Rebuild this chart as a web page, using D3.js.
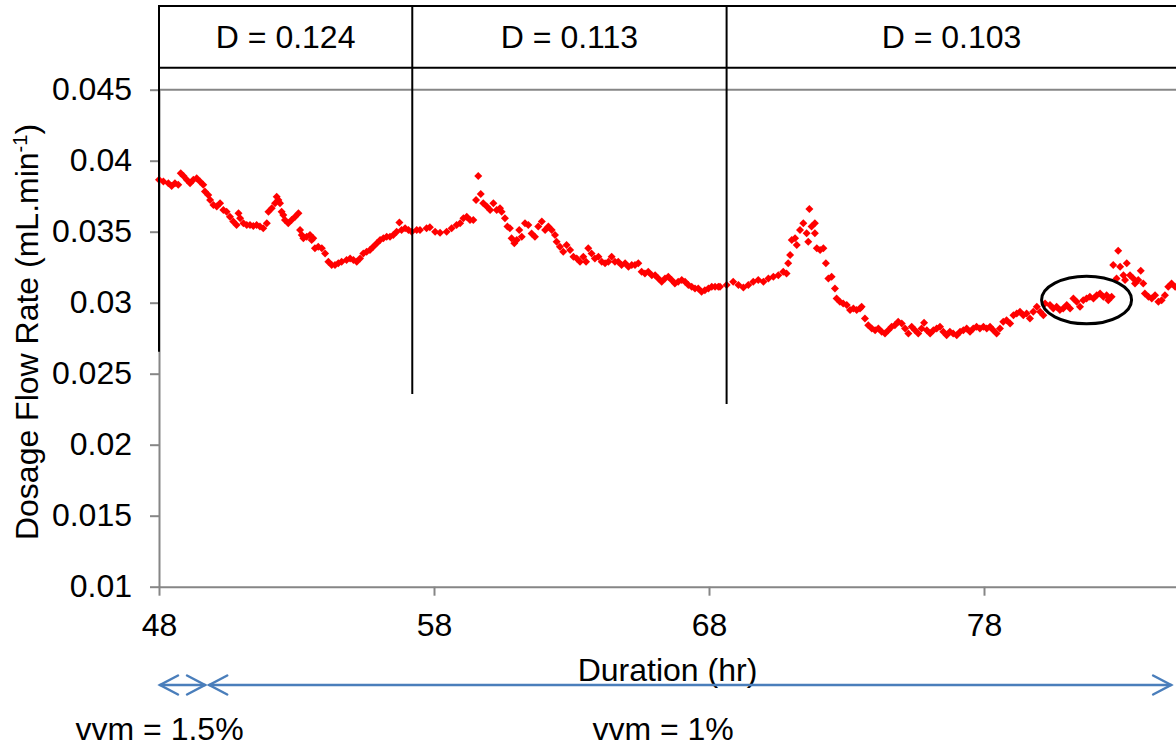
<!DOCTYPE html>
<html><head><meta charset="utf-8">
<script src="https://cdn.jsdelivr.net/npm/d3@7"></script>
<style>
body{margin:0;background:#fff}
svg{display:block;font-family:"Liberation Sans",Arial,sans-serif}
</style>
</head><body>
<svg id="c" width="1176" height="747"></svg>
<script>
// ---- data ----
const hours = [
48.00,48.16,48.34,48.46,48.58,48.70,48.79,48.89,49.01,49.13,49.25,49.37,49.49,49.61,49.67,49.79,49.86,49.98,50.10,50.22,
50.34,50.46,50.58,50.70,50.82,50.89,50.95,51.07,51.19,51.31,51.43,51.55,51.67,51.79,51.92,51.98,52.10,52.22,52.28,52.34,
52.40,52.46,52.52,52.58,52.70,52.82,52.95,53.07,53.13,53.19,53.25,53.37,53.49,53.55,53.61,53.67,53.79,53.92,54.04,54.16,
54.28,54.40,54.52,54.64,54.82,54.95,55.07,55.19,55.31,55.43,55.55,55.67,55.79,55.92,56.04,56.16,56.28,56.40,56.52,56.64,
56.74,56.82,56.95,57.07,57.19,57.37,57.49,57.73,57.85,58.04,58.22,58.46,58.64,58.82,58.95,59.07,59.19,59.31,59.43,59.53,
59.61,59.70,59.79,59.92,60.04,60.16,60.28,60.40,60.46,60.58,60.67,60.76,60.82,60.92,61.01,61.10,61.19,61.31,61.43,61.55,
61.67,61.79,61.92,62.04,62.16,62.28,62.40,62.46,62.58,62.70,62.82,62.95,63.07,63.19,63.31,63.43,63.53,63.61,63.73,63.85,
63.98,64.10,64.22,64.34,64.46,64.58,64.70,64.82,64.95,65.07,65.19,65.31,65.43,65.55,65.67,65.79,65.92,66.04,66.16,66.28,
66.40,66.52,66.64,66.76,66.88,67.01,67.13,67.25,67.37,67.49,67.61,67.73,67.85,67.98,68.10,68.22,68.34,68.40,68.64,68.88,
69.07,69.25,69.43,69.61,69.79,69.98,70.16,70.34,70.52,70.70,70.82,70.88,70.95,71.01,71.13,71.19,71.31,71.43,71.55,71.61,
71.65,71.73,71.85,71.85,71.92,72.04,72.16,72.25,72.34,72.46,72.58,72.64,72.76,72.88,73.01,73.13,73.25,73.37,73.49,73.55,
73.67,73.79,73.92,74.04,74.16,74.28,74.40,74.52,74.64,74.76,74.88,75.01,75.13,75.25,75.37,75.49,75.61,75.73,75.82,75.92,
76.04,76.16,76.28,76.40,76.52,76.64,76.76,76.88,77.01,77.13,77.25,77.37,77.49,77.61,77.73,77.85,77.98,78.10,78.22,78.34,
78.46,78.58,78.70,78.82,78.95,79.07,79.19,79.31,79.43,79.55,79.67,79.79,79.92,80.04,80.16,80.22,80.40,80.52,80.64,80.76,
80.88,81.01,81.13,81.25,81.37,81.49,81.61,81.73,81.85,81.98,82.10,82.22,82.34,82.46,82.52,82.64,82.70,82.82,82.88,82.95,
83.07,83.13,83.19,83.31,83.43,83.49,83.61,83.70,83.79,83.85,83.98,84.10,84.22,84.34,84.46,84.58,84.70,84.82,84.95
];
const flow = [
0.03865,0.03853,0.03841,0.03822,0.03841,0.03830,0.03912,0.03893,0.03865,0.03841,0.03865,0.03877,0.03853,0.03830,0.03783,0.03759,0.03724,0.03688,0.03677,0.03700,
0.03653,0.03641,0.03606,0.03571,0.03547,0.03630,0.03594,0.03559,0.03547,0.03547,0.03540,0.03547,0.03536,0.03524,0.03559,0.03641,0.03665,0.03700,0.03747,0.03724,
0.03700,0.03641,0.03618,0.03583,0.03559,0.03583,0.03606,0.03630,0.03512,0.03477,0.03453,0.03465,0.03477,0.03441,0.03453,0.03383,0.03394,0.03383,0.03347,0.03289,
0.03265,0.03265,0.03277,0.03289,0.03300,0.03312,0.03300,0.03289,0.03312,0.03347,0.03359,0.03371,0.03394,0.03418,0.03441,0.03453,0.03465,0.03465,0.03477,0.03500,
0.03564,0.03512,0.03524,0.03512,0.03500,0.03512,0.03512,0.03524,0.03531,0.03500,0.03493,0.03500,0.03524,0.03547,0.03559,0.03594,0.03606,0.03583,0.03583,0.03724,
0.03893,0.03766,0.03700,0.03677,0.03653,0.03700,0.03653,0.03665,0.03641,0.03594,0.03536,0.03524,0.03453,0.03418,0.03441,0.03512,0.03465,0.03559,0.03547,0.03488,
0.03465,0.03536,0.03571,0.03512,0.03536,0.03512,0.03477,0.03430,0.03394,0.03359,0.03406,0.03371,0.03324,0.03312,0.03289,0.03324,0.03289,0.03383,0.03347,0.03312,
0.03324,0.03289,0.03277,0.03289,0.03324,0.03289,0.03289,0.03265,0.03277,0.03253,0.03265,0.03265,0.03277,0.03218,0.03206,0.03218,0.03194,0.03194,0.03171,0.03147,
0.03171,0.03183,0.03159,0.03136,0.03147,0.03159,0.03147,0.03124,0.03112,0.03100,0.03100,0.03077,0.03088,0.03100,0.03112,0.03112,0.03112,0.03112,0.03124,0.03147,
0.03124,0.03107,0.03124,0.03147,0.03159,0.03147,0.03171,0.03183,0.03194,0.03218,0.03206,0.03277,0.03336,0.03442,0.03453,0.03406,0.03512,0.03559,0.03489,0.03430,
0.03660,0.03536,0.03559,0.03489,0.03383,0.03371,0.03383,0.03277,0.03171,0.03183,0.03100,0.03030,0.03006,0.02995,0.02983,0.02948,0.02959,0.02948,0.02959,0.02971,
0.02889,0.02842,0.02818,0.02806,0.02818,0.02795,0.02783,0.02806,0.02830,0.02842,0.02865,0.02854,0.02818,0.02783,0.02830,0.02806,0.02783,0.02818,0.02858,0.02806,
0.02783,0.02806,0.02818,0.02830,0.02795,0.02771,0.02795,0.02783,0.02771,0.02795,0.02806,0.02818,0.02795,0.02818,0.02830,0.02818,0.02830,0.02818,0.02830,0.02806,
0.02783,0.02818,0.02865,0.02877,0.02854,0.02912,0.02924,0.02936,0.02912,0.02924,0.02889,0.02936,0.02971,0.02936,0.02912,0.02994,0.02983,0.02959,0.02971,0.02948,
0.02959,0.02983,0.02959,0.03030,0.03006,0.02971,0.03018,0.03030,0.03042,0.03030,0.03053,0.03065,0.03042,0.03053,0.03018,0.03042,0.03265,0.03171,0.03366,0.03253,
0.03194,0.03159,0.03277,0.03194,0.03171,0.03136,0.03159,0.03225,0.03136,0.03065,0.03042,0.03030,0.03053,0.03006,0.03018,0.03053,0.03112,0.03136,0.03112
];
const yTicks = [0.01,0.015,0.02,0.025,0.03,0.035,0.04,0.045];
const yTickLabels = ["0.01","0.015","0.02","0.025","0.03","0.035","0.04","0.045"];
const xTicks = [48,58,68,78];
const xTickLabels = ["48","58","68","78"];
const phaseBounds = [48, 57.21, 68.64];
const phaseLineEnds = [0.02655, 0.02357, 0.02287];
const phaseLabels = ["D = 0.124","D = 0.113","D = 0.103"];
const phaseRightEnd = 85;
const bandTop = 0.05089, bandBottom = 0.04655;
const vvmRanges = [[48, 49.71],[49.79, 84.84]];
const vvmLabels = ["vvm = 1.5%","vvm = 1%"];
const vvmLabelPos = [48.02, 66.33];
const highlight = {cx:81.73, cy:0.03019, rx:1.636, ry:0.001676};

// ---- chart ----
const svg = d3.select("#c");
const x = d3.scaleLinear().domain([48,85]).range([159,1176.5]);
const y = d3.scaleLinear().domain([0.01,0.045]).range([586.7,89.7]);
const grey = "#868686", FS = 32;

// gridline at top value
svg.append("line").attr("x1",x(48)).attr("x2",1176).attr("y1",y(0.045)).attr("y2",y(0.045))
  .attr("stroke",grey).attr("stroke-width",2);

// axes
const ya = svg.append("g").attr("transform",`translate(${x(48)},0)`)
  .call(d3.axisLeft(y).tickValues(yTicks).tickFormat((d,i)=>yTickLabels[i]).tickSize(9).tickSizeOuter(0).tickPadding(18));
const xa = svg.append("g").attr("transform",`translate(0,${y(0.01)})`)
  .call(d3.axisBottom(x).tickValues(xTicks).tickFormat((d,i)=>xTickLabels[i]).tickSize(9).tickSizeOuter(0).tickPadding(17.6));
[ya,xa].forEach(g=>{
  g.selectAll("path,line").attr("stroke",grey).attr("stroke-width",2);
  g.selectAll("text").attr("fill","#000").style("font-size",FS+"px").style("font-family",'"Liberation Sans",Arial,sans-serif');
});

// data points (diamonds)
const r = 4;
svg.append("g").selectAll("path").data(hours.map((h,i)=>[h,flow[i]])).join("path")
  .attr("d",`M0,${-r}L${r},0L0,${r}L${-r},0Z`)
  .attr("transform",d=>`translate(${x(d[0])},${y(d[1])})`)
  .attr("fill","#ff0000");

// phase band
const ann = svg.append("g").attr("stroke","#000").attr("stroke-width",2);
ann.append("line").attr("x1",x(48)).attr("x2",x(phaseRightEnd)).attr("y1",y(bandTop)).attr("y2",y(bandTop));
ann.append("line").attr("x1",x(48)).attr("x2",x(phaseRightEnd)).attr("y1",y(bandBottom)).attr("y2",y(bandBottom));
phaseBounds.forEach((b,i)=>{
  ann.append("line").attr("x1",x(b)).attr("x2",x(b)).attr("y1",y(bandTop)-1).attr("y2",y(phaseLineEnds[i]));
});
phaseLabels.forEach((t,i)=>{
  const a = phaseBounds[i], b = i<phaseBounds.length-1 ? phaseBounds[i+1] : phaseRightEnd;
  svg.append("text").attr("x",(x(a)+x(b))/2).attr("y",47.7).attr("text-anchor","middle")
    .style("font-size",FS+"px").attr("fill","#000").text(t);
});

// highlight ellipse
svg.append("ellipse").attr("cx",x(highlight.cx)).attr("cy",y(highlight.cy))
  .attr("rx",x(highlight.cx+highlight.rx)-x(highlight.cx))
  .attr("ry",y(highlight.cy-highlight.ry)-y(highlight.cy))
  .attr("fill","none").attr("stroke","#000").attr("stroke-width",3);

// axis titles
svg.append("text").attr("x",667.5).attr("y",681).attr("text-anchor","middle")
  .style("font-size",FS+"px").attr("fill","#000").text("Duration (hr)");
const yt = svg.append("text").attr("transform","translate(38,332) rotate(-90)").attr("text-anchor","middle")
  .style("font-size",FS+"px").attr("fill","#000");
yt.append("tspan").text("Dosage Flow Rate (mL.min");
yt.append("tspan").attr("dy",-11).style("font-size","20px").text("-1");
yt.append("tspan").attr("dy",11).text(")");

// vvm arrows
const blue = "#4a7ebb", ay = 685, ah = 18, aw = 9.5;
const arr = svg.append("g").attr("stroke",blue).attr("stroke-width",2.5).attr("fill","none").attr("stroke-linecap","round");
vvmRanges.forEach(([a,b])=>{
  const x1 = x(a)+1, x2 = x(b)-1;
  arr.append("line").attr("x1",x1).attr("x2",x2).attr("y1",ay).attr("y2",ay);
  arr.append("path").attr("d",`M${x1+ah},${ay-aw}L${x1},${ay}L${x1+ah},${ay+aw}`);
  arr.append("path").attr("d",`M${x2-ah},${ay-aw}L${x2},${ay}L${x2-ah},${ay+aw}`);
});
vvmLabels.forEach((t,i)=>{
  svg.append("text").attr("x",x(vvmLabelPos[i])).attr("y",740).attr("text-anchor","middle")
    .style("font-size",FS+"px").attr("fill","#000").text(t);
});
</script>
</body></html>
